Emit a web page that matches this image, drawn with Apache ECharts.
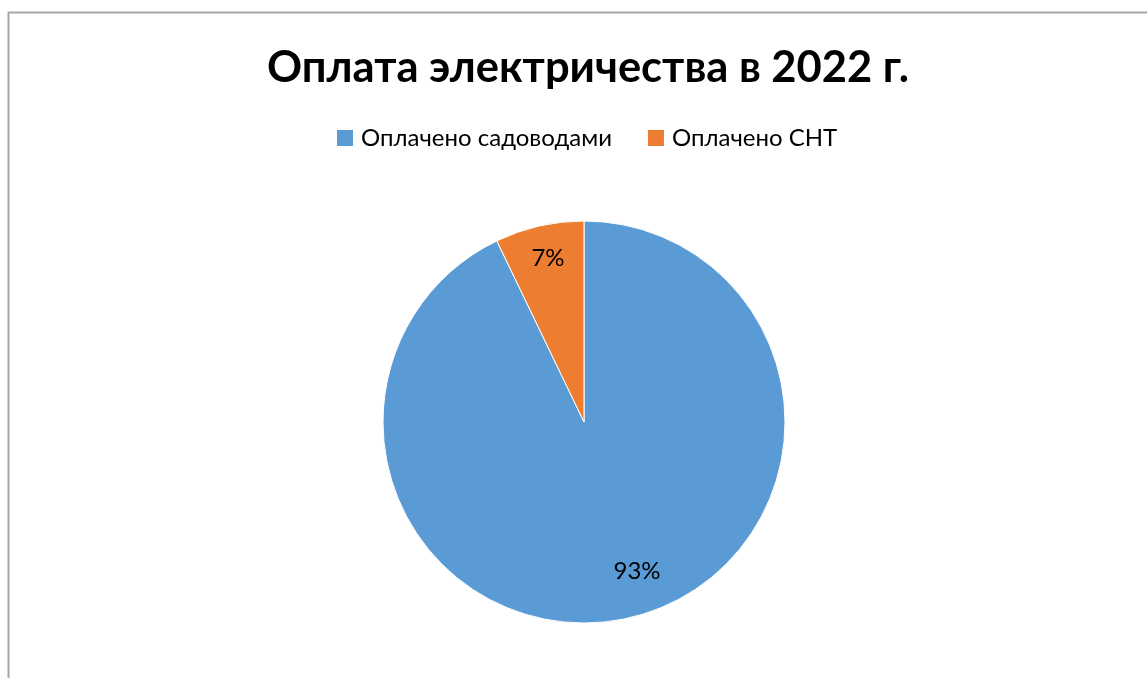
<!DOCTYPE html>
<html><head><meta charset="utf-8">
<script src="https://cdn.jsdelivr.net/npm/echarts@6/dist/echarts.min.js"></script>
<style>html,body{margin:0;padding:0;background:#fff}#c{width:1147px;height:678px}</style>
</head><body><div id="c"></div>
<script>
const titleText = 'Оплата электричества в 2022 г.';
const categories = ['Оплачено садоводами', 'Оплачено СНТ'];
const values = [92.86, 7.14];
const colors = ['#5B9BD5', '#ED7D31'];

const chart = echarts.init(document.getElementById('c'));
const fmt = p => Math.round(p.percent) + '%';
chart.setOption({
  animation: false,
  graphic: [{type:'rect', shape:{x:8.5,y:12.5,width:1200,height:700}, style:{fill:'none', stroke:'#a6a6a6', lineWidth:2}, silent:true}],
  title: {text: titleText, left: 583, textAlign: 'center', top: 41, textStyle:{fontFamily:'Lato', fontWeight:'bold', fontSize:43.5, color:'#000'}},
  legend: {data: categories, top: 126, left: 335, padding: 0, itemWidth: 18, itemHeight: 18, itemGap: 34, icon: 'rect',
    textStyle:{fontFamily:'Lato', fontSize:24, color:'#000', padding:[0,0,0,2]}},
  color: colors,
  series: [
    {type:'pie', center:[584,422], radius:[0,201], startAngle:90, clockwise:true, silent:true,
     label:{show:false}, labelLine:{show:false},
     itemStyle:{borderColor:'#fff', borderWidth:1},
     data: categories.map((n,i)=>({name:n, value:values[i]}))},
    {type:'pie', center:[584,422], radius:[135,201], startAngle:90, clockwise:true, silent:true,
     itemStyle:{color:'rgba(0,0,0,0)'}, labelLine:{show:false},
     label:{show:true, position:'inside', formatter: fmt, fontFamily:'Lato', fontSize:24, color:'#000'},
     data: categories.map((n,i)=>({name:n, value:values[i], label: i===0 ? {offset:[15,-17]} : {offset:[2,3]}}))}
  ]
});
</script></body></html>
